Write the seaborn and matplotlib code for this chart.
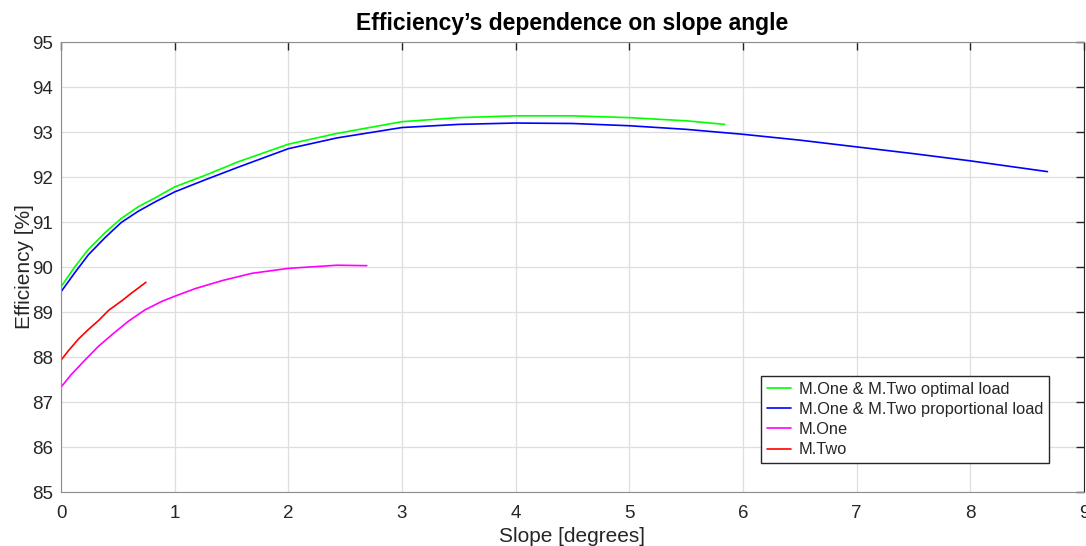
import matplotlib
matplotlib.use("Agg")
import matplotlib.pyplot as plt
import seaborn as sns
import pandas as pd

# slope [deg] and efficiency [%]
x_opt = [0.0, 0.12, 0.24, 0.39, 0.53, 0.68, 0.83, 1.0, 1.27, 1.56, 2.0, 2.43, 3.0, 3.5, 4.0, 4.5, 5.0, 5.5, 5.84]
y_opt = [89.56, 90.0, 90.39, 90.77, 91.08, 91.34, 91.54, 91.78, 92.04, 92.34, 92.73, 92.97, 93.23, 93.32, 93.36, 93.36, 93.32, 93.25, 93.17]

x_prop = [0.0, 0.12, 0.24, 0.39, 0.53, 0.68, 0.83, 1.0, 1.27, 1.56, 2.0, 2.43, 3.0, 3.5, 4.0, 4.5, 5.0,
          5.5, 6.0, 6.5, 7.0, 7.5, 8.0, 8.68]
y_prop = [89.45, 89.87, 90.27, 90.66, 90.99, 91.24, 91.45, 91.67, 91.94, 92.22, 92.63, 92.87, 93.1, 93.17, 93.2, 93.19, 93.14,
          93.06, 92.95, 92.82, 92.67, 92.52, 92.36, 92.12]

x_one = [0.0, 0.09, 0.21, 0.33, 0.45, 0.59, 0.74, 0.89, 1.0, 1.18, 1.42, 1.68, 2.0, 2.43, 2.69]
y_one = [87.33, 87.61, 87.93, 88.24, 88.5, 88.79, 89.05, 89.24, 89.35, 89.52, 89.7, 89.86, 89.97, 90.04, 90.03]

x_two = [0.0, 0.065, 0.15, 0.24, 0.33, 0.42, 0.535, 0.62, 0.747]
y_two = [87.93, 88.14, 88.39, 88.61, 88.81, 89.04, 89.25, 89.42, 89.66]

labels = ["M.One & M.Two optimal load", "M.One & M.Two proportional load", "M.One", "M.Two"]
colors = ["#00ff00", "#0000ff", "#ff00ff", "#ff0000"]

frames = []
for lab, xs, ys in zip(labels, [x_opt, x_prop, x_one, x_two], [y_opt, y_prop, y_one, y_two]):
    frames.append(pd.DataFrame({"slope": xs, "eff": ys, "series": lab}))
df = pd.concat(frames, ignore_index=True)

sns.set_style("white")
plt.rcParams["font.family"] = ["Liberation Sans", "DejaVu Sans"]

fig = plt.figure(figsize=(10.86, 5.46), dpi=100)
ax = fig.add_axes([0.0562, 0.0989, 0.9418, 0.8241])

sns.lineplot(data=df, x="slope", y="eff", hue="series", hue_order=labels,
             palette=colors, sort=False, estimator=None, linewidth=1.2, ax=ax)

ax.set_xlim(0, 9)
ax.set_ylim(85, 95)
ax.set_xticks(range(0, 10))
ax.set_yticks(range(85, 96))
ax.grid(True, color="#dedede", linewidth=0.9)
ax.tick_params(direction="in", length=6, width=1, colors="#262626", labelsize=13.5,
               top=True, right=True)
ax.tick_params(axis="x", pad=9)
ax.tick_params(axis="y", pad=6)
for s in ["left", "bottom", "top"]:
    ax.spines[s].set_color("#8c8c8c")
ax.spines["right"].set_color("#262626")

ax.set_title("Efficiency\u2019s dependence on slope angle", fontsize=16.5, fontweight="bold",
             color="black", pad=9)
ax.set_xlabel("Slope [degrees]", fontsize=15, color="#262626", labelpad=4)
ax.set_ylabel("Efficiency [%]", fontsize=15, color="#262626", labelpad=-1.5)

leg = ax.legend(loc="lower right", bbox_to_anchor=(0.966, 0.064), fontsize=11.8,
                frameon=True, fancybox=False, framealpha=1, edgecolor="#262626",
                handlelength=1.45, borderpad=0.35, labelspacing=0.32, handletextpad=0.5,
                borderaxespad=0)
leg.get_frame().set_linewidth(1)

fig.savefig("out.png", dpi=100)
